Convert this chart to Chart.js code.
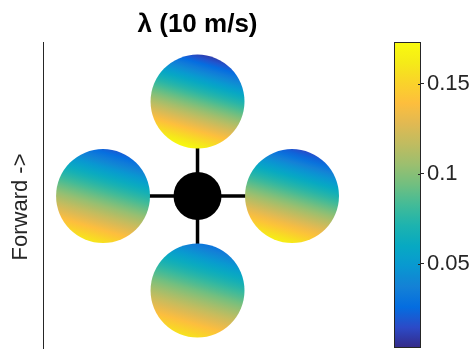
<!DOCTYPE html>
<html>
<head>
<meta charset="utf-8">
<script src="https://cdn.jsdelivr.net/npm/chart.js@4.4.1/dist/chart.umd.min.js"></script>
<style>
    html, body { margin: 0; padding: 0; background: #ffffff; }
    #wrap { width: 472px; height: 349px; }
</style>
</head>
<body>
<div id="wrap"><canvas id="lambdaChart"></canvas></div>
<script>
// Rotor layout (arm lengths) and inflow ratio range over each disk
const rotorNames = ['Front', 'Left', 'Right', 'Rear'];
const rotorX = [0, -1, 1, 0];
const rotorY = [1, 0, 0, -1];
const lambdaLow = [0.010, 0.020, 0.015, 0.030];
const lambdaHigh = [0.172, 0.160, 0.165, 0.158];

// Colour limits and colorbar ticks
const climLow = 0.0033;
const climHigh = 0.1733;
const cbTicks = [0.05, 0.1, 0.15];

// Geometry in arm-length units
const rotorRadius = 0.497;
const hubRadius = 0.254;
const gradientTilt = 16 * Math.PI / 180;

const fontFamily = '"Liberation Sans", Arial, sans-serif';

// parula, every 4th entry of the 64-colour map
const parulaStops = [
    [0.2081, 0.1663, 0.5292], [0.1707, 0.2919, 0.7792], [0.0165, 0.4266, 0.8786],
    [0.0779, 0.5040, 0.8384], [0.0343, 0.5966, 0.8199], [0.0267, 0.6642, 0.7607],
    [0.1133, 0.7015, 0.6859], [0.2586, 0.7317, 0.5954], [0.4420, 0.7481, 0.5033],
    [0.6099, 0.7473, 0.4337], [0.7525, 0.7384, 0.3768], [0.8824, 0.7274, 0.3217],
    [0.9938, 0.7455, 0.2403], [0.9789, 0.8271, 0.1633], [0.9598, 0.9218, 0.0948],
    [0.9763, 0.9831, 0.0538]
];

function parula(t) {
    t = Math.min(1, Math.max(0, t));
    const pos = t * (parulaStops.length - 1);
    const i = Math.min(parulaStops.length - 2, Math.floor(pos));
    const f = pos - i;
    const a = parulaStops[i], b = parulaStops[i + 1];
    const c = a.map((v, k) => Math.round(255 * (v + (b[k] - v) * f)));
    return `rgb(${c[0]},${c[1]},${c[2]})`;
}

function colorFor(value) {
    return parula((value - climLow) / (climHigh - climLow));
}

function unitPx(chart) {
    const sx = chart.scales.x;
    if (!sx) return 0;
    const u = sx.getPixelForValue(1) - sx.getPixelForValue(0);
    return isFinite(u) ? u : 0;
}

// Linear gradient across one rotor disk, from the low side (upper right) to the high side
function diskFill(ctx) {
    const chart = ctx.chart;
    const i = ctx.dataIndex;
    if (ctx.type !== 'data' || !chart.scales.x || !chart.scales.y) return colorFor(0.09);
    const cx = chart.scales.x.getPixelForValue(rotorX[i]);
    const cy = chart.scales.y.getPixelForValue(rotorY[i]);
    const r = unitPx(chart) * rotorRadius;
    if (![cx, cy, r].every(isFinite) || r <= 0) return colorFor(0.09);
    const dx = Math.sin(gradientTilt) * r;
    const dy = Math.cos(gradientTilt) * r;
    const g = chart.ctx.createLinearGradient(cx + dx, cy - dy, cx - dx, cy + dy);
    const steps = 20;
    for (let k = 0; k <= steps; k++) {
        const f = k / steps;
        g.addColorStop(f, colorFor(lambdaLow[i] + f * (lambdaHigh[i] - lambdaLow[i])));
    }
    return g;
}

// Colorbar, title and the vertical axis label
const colorbarPlugin = {
    id: 'colorbar',
    afterDraw(chart) {
        const {ctx, chartArea, scales} = chart;
        const yc = scales.yc;
        const x1 = chartArea.right;
        const x0 = x1 - 27;
        const top = yc.getPixelForValue(climHigh);
        const bottom = yc.getPixelForValue(climLow);
        const g = ctx.createLinearGradient(0, bottom, 0, top);
        for (let k = 0; k <= 30; k++) {
            g.addColorStop(k / 30, parula(k / 30));
        }
        ctx.save();
        ctx.fillStyle = g;
        ctx.fillRect(x0, top, x1 - x0, bottom - top);
        ctx.strokeStyle = '#262626';
        ctx.lineWidth = 1;
        ctx.strokeRect(x0 + 0.5, Math.round(top) + 0.5, x1 - x0 - 1, Math.round(bottom - top) - 1);
        // small inward ticks on the right edge
        cbTicks.forEach(v => {
            const y = Math.round(yc.getPixelForValue(v)) + 0.5;
            ctx.beginPath();
            ctx.moveTo(x1 - 3, y);
            ctx.lineTo(x1, y);
            ctx.stroke();
        });

        ctx.fillStyle = '#000000';
        ctx.font = `bold 26px ${fontFamily}`;
        ctx.textAlign = 'center';
        ctx.textBaseline = 'middle';
        ctx.fillText('\u03bb (10 m/s)', scales.x.getPixelForValue(0), 25);

        // axes label sits at the middle of the full axes box, which runs below the canvas
        ctx.fillStyle = '#262626';
        ctx.font = `22px ${fontFamily}`;
        ctx.translate(21, 207);
        ctx.rotate(-Math.PI / 2);
        ctx.fillText('Forward ->', 0, 0);
        ctx.restore();
    }
};

const chartCtx = document.getElementById('lambdaChart').getContext('2d');
new Chart(chartCtx, {
    data: {
        datasets: [
            {
                type: 'scatter',
                label: 'Hub',
                data: [{x: 0, y: 0}],
                pointRadius: ctx => unitPx(ctx.chart) * hubRadius,
                pointBackgroundColor: '#000000',
                pointBorderWidth: 0
            },
            {
                type: 'scatter',
                label: 'Rotors',
                data: rotorNames.map((n, i) => ({x: rotorX[i], y: rotorY[i]})),
                pointRadius: ctx => unitPx(ctx.chart) * rotorRadius,
                pointBackgroundColor: diskFill,
                pointBorderWidth: 0
            },
            {
                type: 'line',
                label: 'Arm left-right',
                data: [{x: rotorX[1], y: rotorY[1]}, {x: rotorX[2], y: rotorY[2]}],
                borderColor: '#000000',
                borderWidth: 3.5,
                pointRadius: 0
            },
            {
                type: 'line',
                label: 'Arm front-rear',
                data: [{x: rotorX[0], y: rotorY[0]}, {x: rotorX[3], y: rotorY[3]}],
                borderColor: '#000000',
                borderWidth: 3.5,
                pointRadius: 0
            }
        ]
    },
    options: {
        responsive: true,
        maintainAspectRatio: false,
        animation: false,
        events: [],
        layout: {
            padding: { top: 42, bottom: 0, left: 0, right: 0 }
        },
        plugins: {
            legend: { display: false },
            title: { display: false },
            tooltip: { enabled: false }
        },
        scales: {
            x: {
                type: 'linear',
                min: -1.63,
                max: 2.365,
                display: false
            },
            y: {
                type: 'linear',
                position: 'left',
                min: -1.619,
                max: 1.63,
                grid: { display: false },
                ticks: { display: false },
                border: { display: true, color: '#262626', width: 1 },
                afterFit: scale => {
                    scale.width = 43.5;
                    scale.paddingTop = 0;
                    scale.paddingBottom = 0;
                }
            },
            yc: {
                type: 'linear',
                position: 'right',
                min: 0.0027,
                max: 0.1733,
                afterBuildTicks: scale => {
                    scale.ticks = cbTicks.map(v => ({value: v}));
                },
                grid: { drawOnChartArea: false, tickLength: 3, color: '#262626' },
                border: { display: false },
                ticks: {
                    autoSkip: false,
                    padding: 3,
                    color: '#262626',
                    font: { family: fontFamily, size: 22 },
                    callback: v => String(v)
                },
                afterFit: scale => {
                    scale.width = 51;
                    scale.paddingTop = 0;
                    scale.paddingBottom = 0;
                }
            }
        }
    },
    plugins: [colorbarPlugin]
});
</script>
</body>
</html>
